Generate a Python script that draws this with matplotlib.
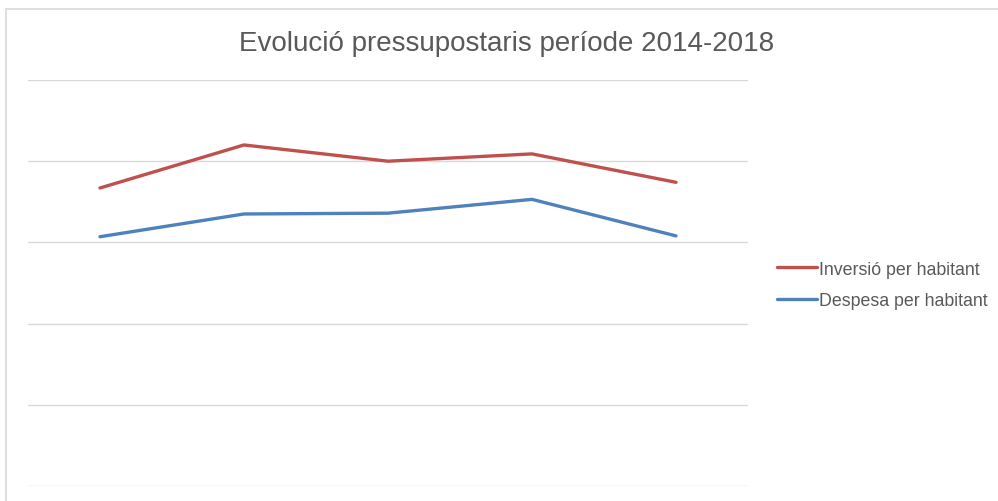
import matplotlib
matplotlib.use('Agg')
import matplotlib.pyplot as plt
from matplotlib.patches import Rectangle

# Data (axis labels are hidden in the original)
years = ['2014', '2015', '2016', '2017', '2018']
inversio = [367, 420, 400, 409, 374]
despesa = [307, 335, 336, 353, 308]

plt.rcParams['font.family'] = ['Liberation Sans', 'DejaVu Sans']

W, H = 998, 502
fig = plt.figure(figsize=(W / 100, H / 100), dpi=100)

# outer chart border
fig.patches.append(Rectangle((6 / W, -0.1), 1.2, (1 - 10 / H) + 0.1,
                             transform=fig.transFigure, fill=False,
                             edgecolor='#d9d9d9', lw=1.2))

ax = fig.add_axes([28 / W, (H - 487) / H, 720 / W, 406 / H])
x = range(len(years))
ax.plot(x, inversio, color='#C0504D', lw=2.4, label='Inversió per habitant',
        solid_capstyle='round')
ax.plot(x, despesa, color='#4F81BD', lw=2.4, label='Despesa per habitant',
        solid_capstyle='round')

ax.set_xlim(-0.5, len(years) - 0.5)
ax.set_ylim(0, 500)
ax.set_yticks(range(0, 501, 100))
ax.grid(axis='y', color='#d9d9d9', lw=1)
ax.set_axisbelow(True)
ax.tick_params(left=False, bottom=False, labelleft=False, labelbottom=False)
for s in ax.spines.values():
    s.set_visible(False)

fig.text(507 / W, 1 - 51 / H, 'Evolució pressupostaris període 2014-2018',
         ha='center', va='baseline', fontsize=20, color='#595959')

fig.legend(loc='center left', bbox_to_anchor=(761 / W, 1 - 286 / H),
           frameon=False, fontsize=12.8, labelcolor='#595959',
           handlelength=2.25, handletextpad=0.12, labelspacing=0.82)

fig.savefig('out.png', dpi=100)
